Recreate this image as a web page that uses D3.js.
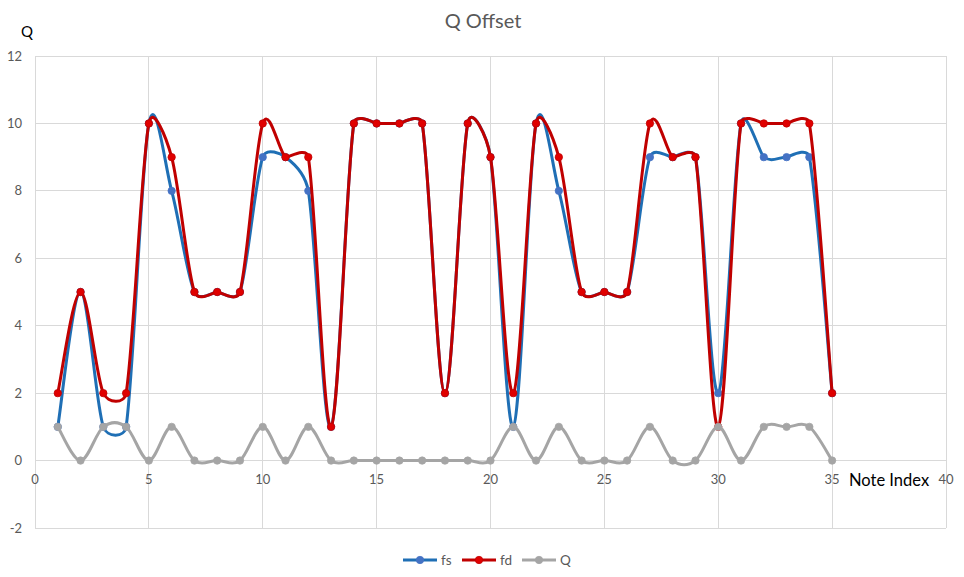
<!DOCTYPE html>
<html><head><meta charset="utf-8">
<script src="https://cdn.jsdelivr.net/npm/d3@7"></script>
<style>body{margin:0;background:#fff;} text{font-family:Lato,"Open Sans",sans-serif;}</style>
</head><body>
<svg id="c" width="964" height="577"></svg>
<script>
const noteIndex = d3.range(1, 36);
const fs = [1,5,1,1,10,8,5,5,5,9,9,8,1,10,10,10,10,2,10,9,1,10,8,5,5,5,9,9,9,2,10,9,9,9,2];
const fd = [2,5,2,2,10,9,5,5,5,10,9,9,1,10,10,10,10,2,10,9,2,10,9,5,5,5,10,9,9,1,10,10,10,10,2];
const Q  = [1,0,1,1,0,1,0,0,0,1,0,1,0,0,0,0,0,0,0,0,1,0,1,0,0,0,1,0,0,1,0,1,1,1,0];
const xTicks = [0,5,10,15,20,25,30,35,40];
const yTicks = [-2,0,2,4,6,8,10,12];

// Excel-like smoothed line curve (Bezier with limited control lengths)
function ExcelCurve(context){ this._context = context; }
ExcelCurve.prototype = {
  areaStart(){}, areaEnd(){},
  lineStart(){ this._pts = []; },
  point(x,y){ this._pts.push([+x,+y]); },
  lineEnd(){
    const p = this._pts, c = this._context, n = p.length;
    if(!n) return;
    c.moveTo(p[0][0],p[0][1]);
    const dist=(a,b)=>Math.hypot(b[0]-a[0],b[1]-a[1]);
    for(let i=0;i<n-1;i++){
      const p0 = p[Math.max(0,i-1)], p1=p[i], p2=p[i+1], p3=p[Math.min(n-1,i+2)];
      const d12=dist(p1,p2), d02=dist(p0,p2)||1e-9, d13=dist(p1,p3)||1e-9;
      let f1=1/6, f2=1/6;
      const big0 = d02/6 >= d12/2, big1 = d13/6 >= d12/2;
      if(big0 && big1){ f1 = d12/2/d02; f2 = d12/2/d13; }
      else if(big0){ f1 = d12/2/d02; f2 = d12/2/d02; }
      else if(big1){ f1 = d12/2/d13; f2 = d12/2/d13; }
      const b1=[p1[0]+(p2[0]-p0[0])*f1, p1[1]+(p2[1]-p0[1])*f1];
      const b2=[p2[0]-(p3[0]-p1[0])*f2, p2[1]-(p3[1]-p1[1])*f2];
      c.bezierCurveTo(b1[0],b1[1],b2[0],b2[1],p2[0],p2[1]);
    }
  }
};
const curveExcel = ctx => new ExcelCurve(ctx);

const svg = d3.select("#c");
const x = d3.scaleLinear().domain([0,40]).range([35,946]);
const y = d3.scaleLinear().domain([-2,12]).range([528,56]);

svg.append("g").selectAll("line").data(yTicks).join("line")
  .attr("x1",x(0)).attr("x2",x(40)).attr("y1",d=>y(d)).attr("y2",d=>y(d))
  .attr("stroke","#d9d9d9").attr("stroke-width",1).attr("shape-rendering","crispEdges");
svg.append("g").selectAll("line").data(xTicks).join("line")
  .attr("y1",y(-2)).attr("y2",y(12)).attr("x1",d=>x(d)).attr("x2",d=>x(d))
  .attr("stroke","#d9d9d9").attr("stroke-width",1).attr("shape-rendering","crispEdges");

svg.append("g").selectAll("text").data(yTicks).join("text")
  .attr("x",22).attr("y",d=>y(d)).attr("dy","0.35em").attr("text-anchor","end")
  .attr("font-size",13).attr("fill","#595959").text(d=>d);
svg.append("g").selectAll("text").data(xTicks).join("text")
  .attr("x",d=>x(d)).attr("y",y(0)+19).attr("dy","0.35em").attr("text-anchor","middle")
  .attr("font-size",13).attr("fill","#595959").text(d=>d);

svg.append("text").attr("x",483).attr("y",21).attr("dy","0.35em").attr("text-anchor","middle")
  .attr("font-size",20).attr("fill","#595959").text("Q Offset");
svg.append("text").attr("x",27).attr("y",32).attr("dy","0.35em").attr("text-anchor","middle")
  .attr("font-size",15).attr("fill","#000").text("Q");
svg.append("text").attr("x",849).attr("y",480).attr("dy","0.35em").attr("text-anchor","start")
  .attr("font-size",16.5).attr("fill","#000").text("Note Index");

const series = [
  {name:"fs", vals:fs, line:"#1f6fb5", fill:"#4472c4", stroke:"#4472c4"},
  {name:"fd", vals:fd, line:"#c00000", fill:"#e00000", stroke:"#c00000"},
  {name:"Q",  vals:Q,  line:"#a5a5a5", fill:"#a5a5a5", stroke:"#a5a5a5"}
];
const lineGen = d3.line().x((d,i)=>x(noteIndex[i])).y(d=>y(d)).curve(curveExcel);

series.forEach(s=>{
  svg.append("path").datum(s.vals).attr("d",lineGen).attr("fill","none")
    .attr("stroke",s.line).attr("stroke-width",3).attr("stroke-linejoin","round");
  svg.append("g").selectAll("circle").data(s.vals).join("circle")
    .attr("cx",(d,i)=>x(noteIndex[i])).attr("cy",d=>y(d)).attr("r",3.7)
    .attr("fill",s.fill).attr("stroke",s.stroke).attr("stroke-width",0.75);
});

const legX = [403,462,522];
series.forEach((s,i)=>{
  const g = svg.append("g").attr("transform",`translate(${legX[i]},560)`);
  g.append("line").attr("x1",0).attr("x2",34).attr("stroke",s.line).attr("stroke-width",3);
  g.append("circle").attr("cx",17).attr("r",3.7).attr("fill",s.fill).attr("stroke",s.stroke).attr("stroke-width",0.75);
  g.append("text").attr("x",38).attr("dy","0.35em").attr("font-size",13.5).attr("fill","#595959").text(s.name);
});
</script>
</body></html>
